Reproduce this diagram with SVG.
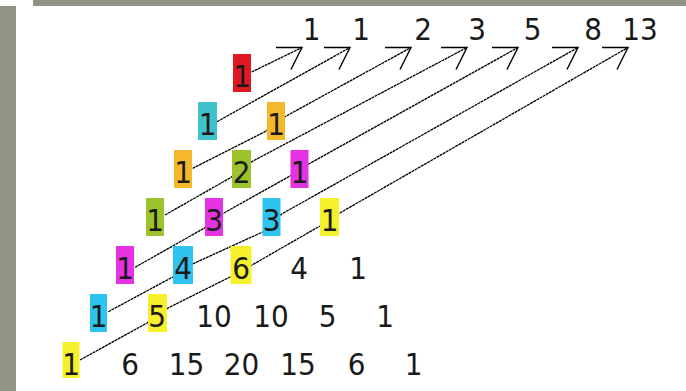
<svg xmlns="http://www.w3.org/2000/svg" width="686" height="391" viewBox="0 0 686 391">
<style>
text{font-family:"DejaVu Sans Condensed","DejaVu Sans",sans-serif;font-stretch:condensed;font-size:31px;fill:#1a1a1a;text-anchor:middle}
.ln{fill:none;stroke:#000;stroke-width:1.3;stroke-dasharray:3 0.6;marker-end:url(#ah)}
.b{stroke:none}
.red{fill:#e01822}.teal{fill:#3fc2cc}.org{fill:#f5b82c}.grn{fill:#9cc32c}.mag{fill:#e532e2}.cyn{fill:#2ec4ef}.yel{fill:#f6f02c}
</style>
<defs>
<marker id="ah" markerUnits="userSpaceOnUse" orient="0" refX="0" refY="0" viewBox="-30 -3 34 28" markerWidth="34" markerHeight="28" overflow="visible">
<path d="M-26,0 L0,0 L-11,22" fill="none" stroke="#000" stroke-width="1.4"/>
</marker>
</defs>
<rect width="686" height="391" fill="#fff"/>
<rect x="0" y="6" width="16" height="385" fill="#8f9486"/>
<rect x="33" y="0" width="653" height="6" fill="#8f9486"/>
<g id="connectors">
<path class="ln" d="M251.7,72 L302,47.5"/>
<path class="ln" d="M217,121.7 L350,47.5"/>
<path class="ln" d="M192.7,168.3 L265,131.7 L285,116.7 L411,47.5"/>
<path class="ln" d="M165,215 L230,178 L251.7,161.7 L467,47.5"/>
<path class="ln" d="M135,267.3 L204,228.3 L223.3,213.3 L290,176 L310,163.3 L518,47.5"/>
<path class="ln" d="M108.3,311.7 L173.3,276.7 L194,263.3 L262.7,232 L281.7,214 L578,47.5"/>
<path class="ln" d="M80,360 L147,323 L168,308 L230,277 L252,265 L320,226 L339.3,213.3 L628,47.5"/>
</g>
<g id="fib">
<g id="f1"><text x="311.5" y="40">1</text></g>
<g id="f2"><text x="361" y="40">1</text></g>
<g id="f3"><text x="423" y="40">2</text></g>
<g id="f4"><text x="477" y="40">3</text></g>
<g id="f5"><text x="532.5" y="40">5</text></g>
<g id="f6"><text x="593" y="40">8</text></g>
<g id="f7"><text x="640" y="40">13</text></g>
</g>
<g id="r0c0"><rect class="b red" x="233" y="54" width="18" height="38"/><text x="242" y="87">1</text></g>
<g id="r1c0"><rect class="b teal" x="198" y="102" width="19" height="38"/><text x="207.5" y="135">1</text></g>
<g id="r1c1"><rect class="b org" x="267" y="102" width="18" height="38"/><text x="276" y="135">1</text></g>
<g id="r2c0"><rect class="b org" x="174" y="150" width="18" height="38"/><text x="183" y="183">1</text></g>
<g id="r2c1"><rect class="b grn" x="232" y="150" width="19" height="38"/><text x="241.5" y="183">2</text></g>
<g id="r2c2"><rect class="b mag" x="290.5" y="150" width="18" height="38"/><text x="299.5" y="183">1</text></g>
<g id="r3c0"><rect class="b grn" x="146" y="198" width="18" height="38"/><text x="155" y="231">1</text></g>
<g id="r3c1"><rect class="b mag" x="205" y="198" width="18" height="38"/><text x="214" y="231">3</text></g>
<g id="r3c2"><rect class="b cyn" x="262.5" y="198" width="18" height="38"/><text x="271.5" y="231">3</text></g>
<g id="r3c3"><rect class="b yel" x="320" y="198" width="19" height="38"/><text x="329.5" y="231">1</text></g>
<g id="r4c0"><rect class="b mag" x="116" y="246" width="18" height="38"/><text x="125" y="279">1</text></g>
<g id="r4c1"><rect class="b cyn" x="173" y="246" width="20" height="38"/><text x="183" y="279">4</text></g>
<g id="r4c2"><rect class="b yel" x="230.5" y="246" width="21" height="38"/><text x="241" y="279">6</text></g>
<g id="r4c3"><text x="299" y="279">4</text></g>
<g id="r4c4"><text x="358" y="279">1</text></g>
<g id="r5c0"><rect class="b cyn" x="90" y="294" width="17" height="38"/><text x="98.5" y="327">1</text></g>
<g id="r5c1"><rect class="b yel" x="148" y="294" width="19" height="38"/><text x="157" y="327">5</text></g>
<g id="r5c2"><text x="214" y="327">10</text></g>
<g id="r5c3"><text x="271" y="327">10</text></g>
<g id="r5c4"><text x="327.5" y="327">5</text></g>
<g id="r5c5"><text x="385" y="327">1</text></g>
<g id="r6c0"><rect class="b yel" x="62.5" y="342" width="17" height="36"/><text x="71" y="375">1</text></g>
<g id="r6c1"><text x="130" y="375">6</text></g>
<g id="r6c2"><text x="186.5" y="375">15</text></g>
<g id="r6c3"><text x="241.5" y="375">20</text></g>
<g id="r6c4"><text x="298" y="375">15</text></g>
<g id="r6c5"><text x="356.5" y="375">6</text></g>
<g id="r6c6"><text x="413.5" y="375">1</text></g>
</svg>
